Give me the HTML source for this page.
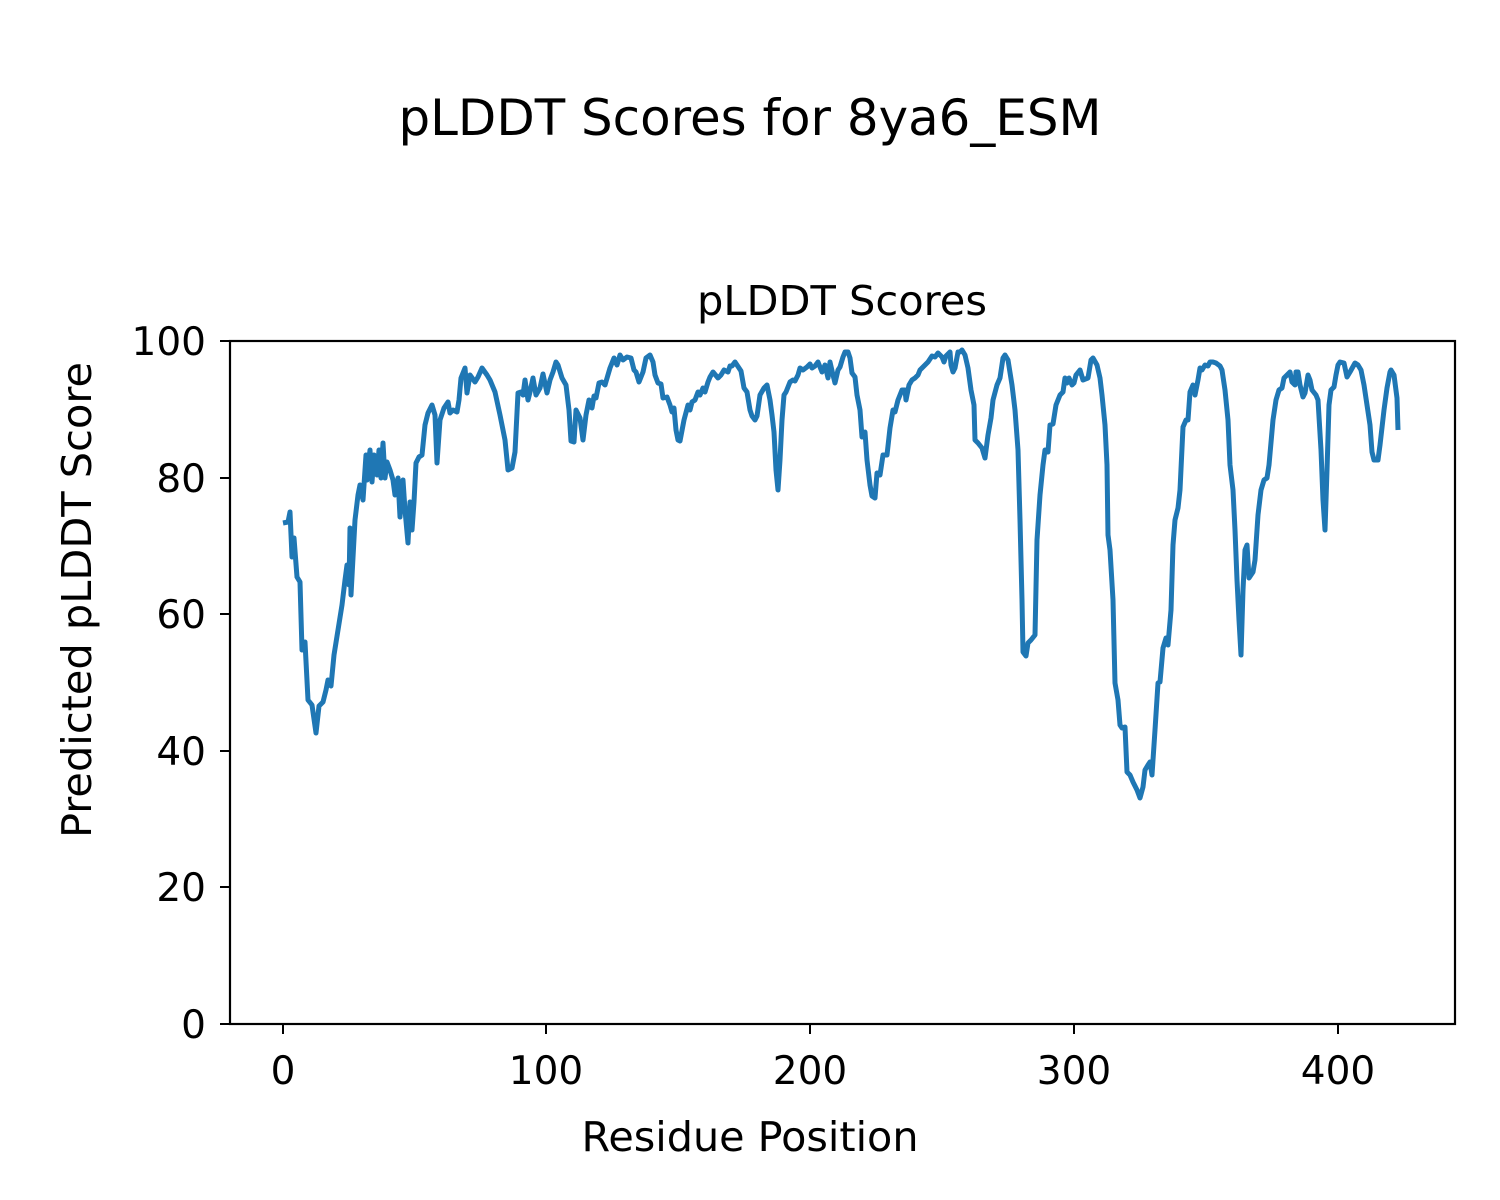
<!DOCTYPE html>
<html><head><meta charset="utf-8"><style>body{margin:0;background:#fff}svg{display:block}</style></head><body>
<svg width="1500" height="1200" xmlns="http://www.w3.org/2000/svg" font-family="DejaVu Sans, Liberation Sans, sans-serif" fill="#000">
<rect width="1500" height="1200" fill="#fff"/>
<text x="750" y="135" font-size="50" text-anchor="middle" textLength="703" lengthAdjust="spacingAndGlyphs">pLDDT Scores for 8ya6_ESM</text>
<text x="842" y="315" font-size="41" text-anchor="middle" textLength="290" lengthAdjust="spacingAndGlyphs">pLDDT Scores</text>
<polyline fill="none" stroke="#1f77b4" stroke-width="5" stroke-linejoin="round" points="283,523 288,522 290,512 292,557 294,538 297,577 300,582 302,650 305,642 308,700 312,705 316,733 319,706 323,702 326,690 328,680 331,686 334,655 338,630 342,605 345,580 347,565 349,585 350,528 351,595 355,520 358,495 360,485 363,500 366,455 367,480 370,450 372,482 374,455 377,475 379,450 381,478 383,443 385,478 387,462 390,470 393,480 395,495 398,478 400,517 403,480 405,510 408,543 410,502 412,530 414,502 416,463 419,457 422,455 425,425 428,413 432,405 435,415 437,463 440,420 444,408 448,402 450,413 453,410 457,412 459,400 461,378 465,368 467,393 470,375 475,382 478,377 482,368 487,375 490,380 495,392 500,415 505,440 508,470 512,468 515,452 518,393 521,392 523,395 525,380 528,400 530,392 533,378 536,395 540,388 543,374 547,393 550,380 553,372 556,362 558,365 562,378 566,385 569,410 571,441 574,442 576,410 580,418 583,440 586,415 589,400 592,408 594,396 596,398 599,383 602,382 605,385 610,368 614,358 617,365 620,355 623,360 627,357 631,358 634,370 636,372 639,382 643,372 646,358 650,355 653,362 655,375 658,383 661,384 663,398 667,397 670,405 672,412 674,408 676,430 678,440 680,441 684,420 688,405 690,410 692,402 695,400 698,392 700,395 703,388 705,392 708,382 710,377 713,372 718,378 721,375 724,370 728,372 730,366 732,366 735,362 739,368 741,371 744,388 747,392 750,410 752,416 755,420 757,416 760,395 764,388 767,385 770,400 772,415 774,432 776,470 778,490 780,460 782,420 784,395 786,392 790,382 793,380 795,381 798,375 800,368 803,370 807,367 810,364 812,368 815,366 818,362 822,372 825,365 828,378 830,362 833,375 835,383 838,370 840,367 843,357 845,352 848,352 850,358 852,373 855,377 857,395 860,410 862,437 865,432 867,460 870,485 872,496 875,498 877,473 880,475 883,455 887,455 890,428 893,410 895,412 898,400 900,395 902,390 905,390 906,400 909,385 912,380 915,378 918,375 920,370 925,365 928,362 932,356 935,357 938,353 942,357 944,362 946,356 950,352 951,365 953,372 955,368 958,352 960,352 962,350 965,355 968,368 971,390 974,405 975,440 978,443 982,448 985,458 988,435 991,418 993,400 997,385 1000,378 1003,358 1005,355 1008,360 1012,385 1015,410 1018,450 1020,520 1022,600 1023,652 1026,656 1028,643 1031,640 1035,635 1037,540 1040,495 1043,465 1045,450 1048,452 1050,425 1053,424 1056,405 1060,395 1063,392 1065,378 1067,383 1069,378 1072,385 1074,383 1076,375 1080,370 1083,380 1088,378 1091,360 1093,358 1097,365 1100,378 1102,395 1105,425 1107,465 1108,535 1110,550 1113,600 1115,683 1118,700 1120,725 1122,728 1125,727 1127,772 1130,775 1133,782 1137,790 1140,798 1143,787 1145,770 1148,765 1150,762 1152,775 1155,730 1158,683 1160,682 1163,648 1166,638 1168,645 1171,610 1173,545 1175,520 1178,508 1180,490 1183,427 1186,420 1188,420 1190,392 1193,385 1195,395 1198,380 1200,368 1202,370 1205,365 1208,366 1210,362 1213,362 1216,363 1220,366 1222,370 1225,390 1228,420 1230,465 1233,490 1235,530 1237,580 1239,620 1241,655 1243,590 1245,550 1247,545 1249,578 1251,575 1253,572 1255,560 1258,515 1261,490 1264,480 1267,478 1269,465 1273,420 1276,400 1279,390 1282,388 1284,378 1287,375 1290,372 1292,382 1295,385 1296,372 1298,372 1300,385 1303,397 1305,393 1308,375 1310,380 1312,390 1316,395 1318,400 1321,450 1323,500 1325,530 1327,470 1329,405 1331,390 1334,387 1336,375 1338,365 1340,362 1344,363 1347,377 1350,372 1355,363 1358,365 1361,370 1364,385 1367,405 1370,425 1372,452 1374,460 1378,460 1380,445 1384,410 1387,388 1390,372 1391,370 1394,375 1397,398 1398,430"/>
<rect x="230" y="341" width="1225" height="683" fill="none" stroke="#000" stroke-width="2.2"/>
<g stroke="#000" stroke-width="2">
<line x1="230" y1="341" x2="220" y2="341"/><line x1="230" y1="478" x2="220" y2="478"/><line x1="230" y1="614" x2="220" y2="614"/><line x1="230" y1="751" x2="220" y2="751"/><line x1="230" y1="887" x2="220" y2="887"/><line x1="230" y1="1024" x2="220" y2="1024"/>
<line x1="283" y1="1024" x2="283" y2="1034"/><line x1="546" y1="1024" x2="546" y2="1034"/><line x1="810" y1="1024" x2="810" y2="1034"/><line x1="1074" y1="1024" x2="1074" y2="1034"/><line x1="1338" y1="1024" x2="1338" y2="1034"/>
</g>
<g font-size="39" text-anchor="end">
<text x="206" y="355">100</text><text x="206" y="492">80</text><text x="206" y="628">60</text><text x="206" y="765">40</text><text x="206" y="901">20</text><text x="206" y="1038">0</text>
</g>
<g font-size="39" text-anchor="middle">
<text x="283" y="1084">0</text><text x="546" y="1084">100</text><text x="810" y="1084">200</text><text x="1074" y="1084">300</text><text x="1338" y="1084">400</text>
</g>
<text x="750" y="1151" font-size="41" text-anchor="middle" textLength="337" lengthAdjust="spacingAndGlyphs">Residue Position</text>
<text transform="translate(91,600) rotate(-90)" font-size="41" text-anchor="middle" textLength="476" lengthAdjust="spacingAndGlyphs">Predicted pLDDT Score</text>
</svg>
</body></html>
